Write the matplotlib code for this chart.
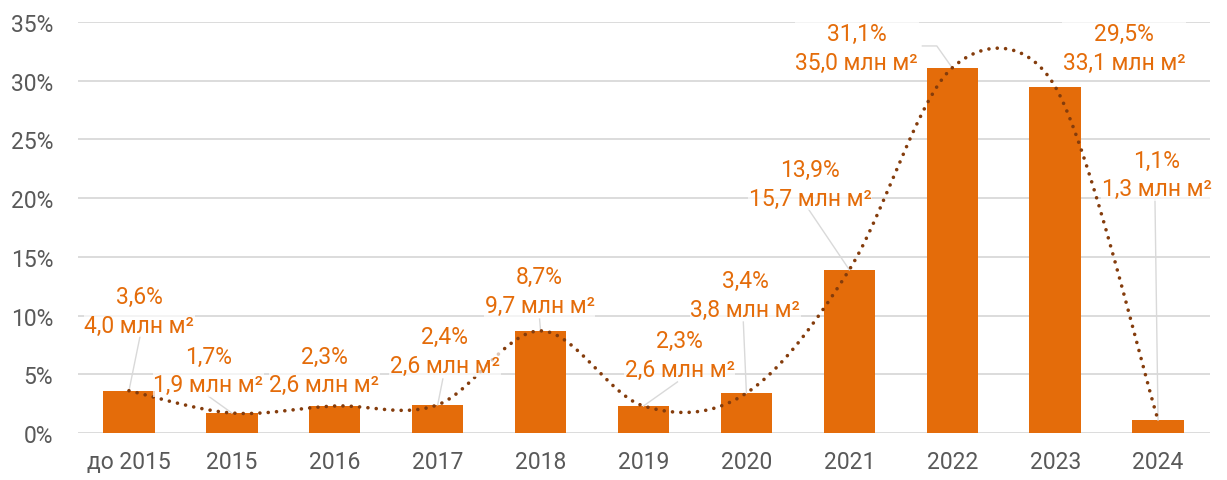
import numpy as np
import matplotlib.pyplot as plt

plt.rcParams['font.family'] = ['Roboto', 'DejaVu Sans']

categories = ['до 2015', '2015', '2016', '2017', '2018', '2019', '2020', '2021', '2022', '2023', '2024']
share_pct = [3.6, 1.7, 2.3, 2.4, 8.7, 2.3, 3.4, 13.9, 31.1, 29.5, 1.1]
area_mln = [4.0, 1.9, 2.6, 2.6, 9.7, 2.6, 3.8, 15.7, 35.0, 33.1, 1.3]

# label centres (x in category units, y in %)
label_pos = [(0.10, 10.4), (0.77, 5.35), (1.90, 5.35), (3.07, 7.0), (3.99, 12.1),
             (5.35, 6.65), (5.99, 11.75), (6.62, 21.2), (7.07, 32.8), (9.67, 32.8), (9.99, 22.0)]
# leader lines
leaders = [[(0.107, 8.2), (0.0, 3.6)], [(0.77, 3.15), (1.0, 1.7)], None,
           [(3.05, 4.6), (3.0, 2.4)], [(3.99, 9.7), (4.0, 8.7)], [(5.33, 4.35), (5.0, 2.3)],
           [(5.97, 9.45), (6.0, 3.4)], [(6.6, 19.1), (7.0, 13.9)],
           [(7.71, 32.96), (7.85, 32.96), (8.0, 31.1)], None, [(9.97, 19.9), (10.0, 1.1)]]

orange = '#E46C0A'
brown = '#843C0C'
grid = '#D9D9D9'


def smooth(ax, xs, ys, n=40):
    # Excel-like smoothed line, worked out in screen pixels
    tr = ax.transData
    p = tr.transform(np.column_stack([xs, ys]).astype(float))
    m = len(p)
    fwd, bwd = [], []
    for i in range(m):
        a = p[max(i - 1, 0)]
        b = p[min(i + 1, m - 1)]
        t = b - a
        d = np.hypot(*t)
        u = t / d if d > 0 else t
        dn = np.hypot(*(p[min(i + 1, m - 1)] - p[i]))
        dp = np.hypot(*(p[i] - p[max(i - 1, 0)]))
        fwd.append(p[i] + u * min(d / 6, dn / 2) if dn > 0 else p[i])
        bwd.append(p[i] - u * min(d / 6, dp / 2) if dp > 0 else p[i])
    out = []
    tt = np.linspace(0, 1, n)[:, None]
    for i in range(m - 1):
        p1, c1, c2, p2 = p[i], fwd[i], bwd[i + 1], p[i + 1]
        seg = (1 - tt) ** 3 * p1 + 3 * (1 - tt) ** 2 * tt * c1 + 3 * (1 - tt) * tt ** 2 * c2 + tt ** 3 * p2
        out.append(seg if i == 0 else seg[1:])
    out = tr.inverted().transform(np.vstack(out))
    return out[:, 0], out[:, 1]


fig = plt.figure(figsize=(12.27, 4.81), dpi=100)
ax = fig.add_axes([77.5 / 1227, 47 / 481, 1132 / 1227, 411 / 481])

x = np.arange(len(categories))
ax.bar(x, share_pct, 0.5, color=orange, zorder=2)

ax.set_xlim(-0.5, len(categories) - 0.5)
ax.set_ylim(0, 35)

sx, sy = smooth(ax, x, share_pct)
ax.plot(sx, sy, color=brown, lw=2.6, linestyle=(0, (0.01, 2.3)), dash_capstyle='round', zorder=3)

for i in range(len(categories)):
    if leaders[i] is not None:
        lx, ly = zip(*leaders[i])
        ax.plot(lx, ly, color=grid, lw=1.0, zorder=2.5)
    tx, ty = label_pos[i]
    txt = '%s%%\n%s млн м²' % (('%.1f' % share_pct[i]).replace('.', ','),
                                ('%.1f' % area_mln[i]).replace('.', ','))
    ax.text(tx, ty, txt, ha='center', va='center', color=orange, fontsize=16.5,
            linespacing=1.3, zorder=4,
            bbox=dict(facecolor='white', edgecolor='none', alpha=0.7, pad=0.5))

ax.set_yticks(np.arange(0, 36, 5))
ax.set_yticklabels(['%d%%' % v for v in range(0, 36, 5)])
ax.set_xticks(x)
ax.set_xticklabels(categories)
ax.yaxis.grid(True, color=grid, lw=1.3, zorder=0)
ax.set_axisbelow(True)
for s in ax.spines.values():
    s.set_visible(False)
ax.tick_params(length=0, labelsize=16.5, colors='#595959')
ax.tick_params(axis='y', pad=17.5)
ax.tick_params(axis='x', pad=12)

fig.savefig('out.png', dpi=100)
